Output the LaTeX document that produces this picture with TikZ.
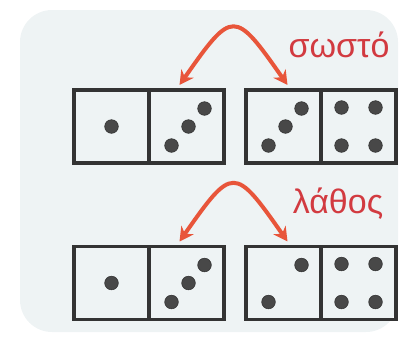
\documentclass[tikz,border=0pt]{standalone}
\usepackage{fontspec}
\setmainfont{Liberation Sans}
\usetikzlibrary{arrows.meta, positioning}

\definecolor{panelbg}{HTML}{EEF3F4}
\definecolor{framegrey}{HTML}{333333}
\definecolor{dotgrey}{HTML}{484848}
\definecolor{swaporange}{HTML}{E8553A}
\definecolor{wordred}{HTML}{D23A40}

\begin{document}
\begin{tikzpicture}[
    x=1pt, y=-1pt,
    node distance=0pt,
    half/.style={
        rectangle, draw=framegrey, line width=3.5pt, outer sep=0pt,
        minimum width=75pt, minimum height=73pt, inner sep=0pt
    },
    dot/.style={fill=dotgrey, draw=black!80, line width=0.6pt},
    swap/.style={{Stealth[length=14pt,width=15pt]}-{Stealth[length=14pt,width=15pt]},
        line width=4pt, swaporange, out=55, in=125, looseness=2.2},
    word/.style={font=\fontsize{34}{40}\selectfont, text=wordred, anchor=base}
]
    \useasboundingbox (0,0) rectangle (411,349);
    \fill[panelbg, rounded corners=32pt] (20,10) rectangle (398,332);

    % top row: the right answer
    \node[half] (tal) at (111.5,126.5) {};
    \node[half, right=of tal] (tar) {};
    \node[half, right=22pt of tar] (tbl) {};
    \node[half, right=of tbl] (tbr) {};

    % bottom row: the wrong answer
    \node[half] (bal) at (111.5,283) {};
    \node[half, right=of bal] (bar) {};
    \node[half, right=22pt of bar] (bbl) {};
    \node[half, right=of bbl] (bbr) {};

    % pips
    \foreach \h in {t,b} {
        \fill[dot] (\h al.center) circle (6.8);
        \foreach \dx/\dy in {18/-18, 2/0, -15/19}
            \fill[dot] ([shift={(\dx,\dy)}]\h ar.center) circle (6.8);
        \foreach \dx/\dy in {-17/-19, 17/-19, -17/19, 17/19}
            \fill[dot] ([shift={(\dx,\dy)}]\h br.center) circle (6.8);
    }
    \foreach \dx/\dy in {18/-18, 2/0, -15/19}
        \fill[dot] ([shift={(\dx,\dy)}]tbl.center) circle (6.8);
    \foreach \dx/\dy in {18/-18, -15/19}
        \fill[dot] ([shift={(\dx,\dy)}]bbl.center) circle (6.8);

    % arrows between the touching halves
    \coordinate (tfrom) at ([shift={(-7,-5)}]tar.north);
    \coordinate (tto) at ([shift={(4,-5)}]tbl.north);
    \coordinate (bfrom) at ([shift={(-7,-5)}]bar.north);
    \coordinate (bto) at ([shift={(4,-5)}]bbl.north);
    \draw[swap] (tfrom) to (tto);
    \draw[swap] (bfrom) to (bto);

    \node[word] (right) at (339,57) {σωστό};
    \node[word] (wrong) at (338,213) {λάθος};
\end{tikzpicture}
\end{document}
